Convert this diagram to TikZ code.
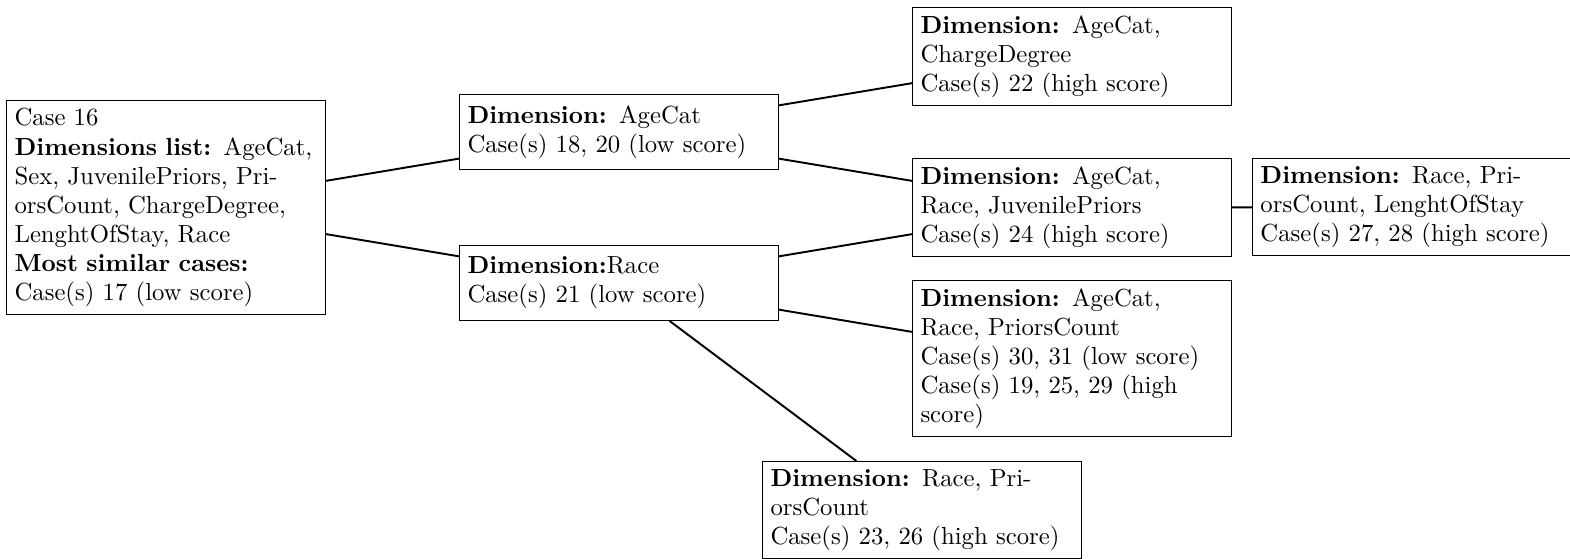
\documentclass[tikz,border=0pt]{standalone}
\begin{document}
\begin{tikzpicture}[x=1pt,y=1pt,
  box/.style={draw, anchor=north west, text width=4.4cm, align=left, minimum height=31pt,
    font=\fontsize{10.22pt}{12pt}\selectfont},
  link/.style={thick}]
\useasboundingbox (0,0) rectangle (648.8,-231);
\node[box] (root) at (2.48,-41.32) {Case 16\\ \textbf{Dimensions list:} AgeCat, Sex, JuvenilePriors, PriorsCount, ChargeDegree, LenghtOfStay, Race\\ \textbf{Most similar cases:}\\ Case(s) 17 (low score)};
\node[box] (agecat) at (189.67,-38.84) {\textbf{Dimension:} AgeCat\\ Case(s) 18, 20 (low score)};
\node[box] (race) at (189.67,-101.24) {\textbf{Dimension:}Race\\ Case(s) 21 (low score)};
\node[box] (charge) at (376.86,-2.89) {\textbf{Dimension:} AgeCat, ChargeDegree\\ Case(s) 22 (high score)};
\node[box] (juv) at (376.86,-65.29) {\textbf{Dimension:} AgeCat, Race, JuvenilePriors\\ Case(s) 24 (high score)};
\node[box] (los) at (517.36,-65.29) {\textbf{Dimension:} Race, PriorsCount, LenghtOfStay\\ Case(s) 27, 28 (high score)};
\node[box] (priors) at (376.86,-115.70) {\textbf{Dimension:} AgeCat, Race, PriorsCount\\ Case(s) 30, 31 (low score)\\ Case(s) 19, 25, 29 (high score)};
\node[box] (racepriors) at (314.88,-190.50) {\textbf{Dimension:} Race, PriorsCount\\ Case(s) 23, 26 (high score)};
\draw[link] (root) -- (agecat);
\draw[link] (root) -- (race);
\draw[link] (agecat) -- (charge);
\draw[link] (agecat) -- (juv);
\draw[link] (race) -- (juv);
\draw[link] (race) -- (priors);
\draw[link] (race) -- (racepriors);
\draw[link] (juv) -- (los);
\end{tikzpicture}
\end{document}
